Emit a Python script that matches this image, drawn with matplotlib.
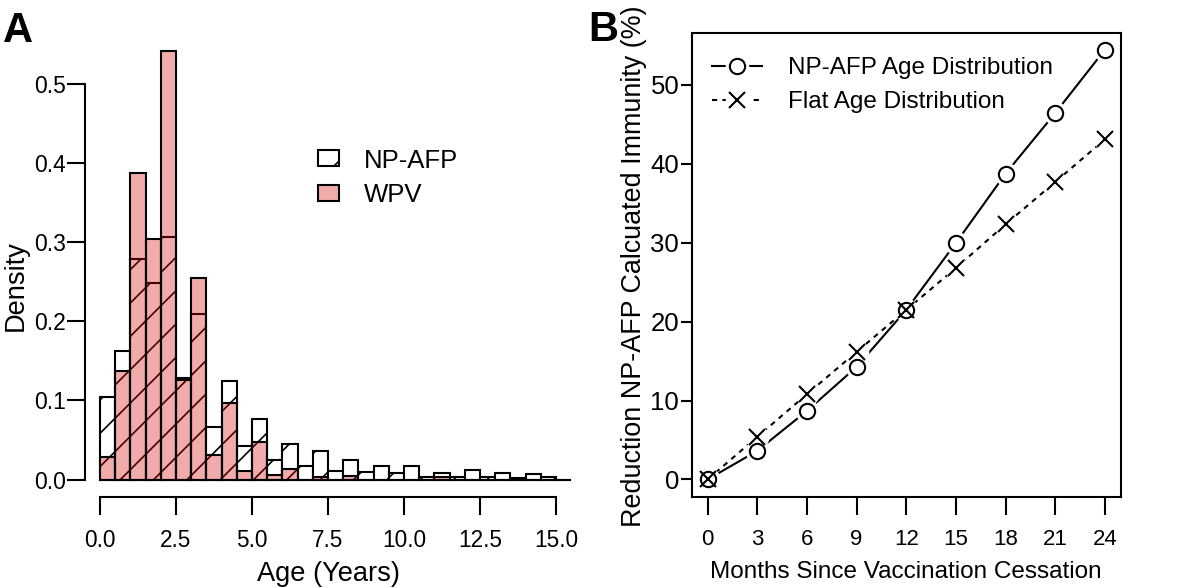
## two-panel figure: age histogram (A) and immunity reduction (B)

import numpy as np
import matplotlib
matplotlib.use('Agg')
import matplotlib.pyplot as plt
from matplotlib.patches import Patch
from matplotlib.lines import Line2D
from matplotlib.ticker import FormatStrFormatter

plt.rcParams['font.family'] = ['Liberation Sans', 'DejaVu Sans']
plt.rcParams['hatch.linewidth'] = 1.2

# panel A data: density per half-year age bin
bin_width = 0.5
age_left = np.arange(0, 15.5, bin_width)
npafp_density = [0.104, 0.162, 0.279, 0.2485, 0.306, 0.1287, 0.209, 0.0664,
                 0.1244, 0.042, 0.0765, 0.025, 0.0454, 0.017, 0.036, 0.011,
                 0.025, 0.0094, 0.017, 0.0076, 0.0165, 0.0035, 0.0086, 0.0035,
                 0.0116, 0.0035, 0.0086, 0.0015, 0.0073, 0.0035, 0.0]
wpv_density = [0.0285, 0.137, 0.387, 0.304, 0.5416, 0.126, 0.255, 0.0307,
               0.097, 0.011, 0.0475, 0.0054, 0.013, 0.0, 0.003, 0.0,
               0.0043, 0.0, 0.0, 0.0, 0.0, 0.0, 0.0035, 0.0,
               0.0, 0.0, 0.0, 0.0, 0.0, 0.0, 0.0]
age_ticks = [0, 2.5, 5, 7.5, 10, 12.5, 15]
density_ticks = [0, 0.1, 0.2, 0.3, 0.4, 0.5]

# panel B data
months = [0, 3, 6, 9, 12, 15, 18, 21, 24]
npafp_reduction = [0, 3.63, 8.69, 14.26, 21.48, 29.96, 38.73, 46.41, 54.43]
flat_reduction = [0, 5.4, 10.8, 16.16, 21.48, 26.79, 32.32, 37.68, 43.08]
reduction_ticks = [0, 10, 20, 30, 40, 50]

pink = (0.845, 0.0, 0.0, 0.33)
W, H = 1200, 588
fig = plt.figure(figsize=(W / 100, H / 100), dpi=100)


def add_axes_px(left, top, right, bottom):
    return fig.add_axes([left / W, 1 - bottom / H, (right - left) / W, (bottom - top) / H])


# ---- panel A ----
axA = add_axes_px(85, 30, 580, 497)
axA.bar(age_left, npafp_density, width=bin_width, align='edge', facecolor='white',
        edgecolor='black', hatch='/', lw=1.5)
axA.bar(age_left, wpv_density, width=bin_width, align='edge', facecolor=pink,
        edgecolor='black', lw=1.5)
axA.set_xlim(-0.493, 15.79)
axA.set_ylim(-0.0221, 0.568)
for s in ['top', 'right']:
    axA.spines[s].set_visible(False)
axA.spines['left'].set_bounds(0, 0.5)
axA.spines['bottom'].set_bounds(0, 15)
for s in ['left', 'bottom']:
    axA.spines[s].set_linewidth(1.5)
axA.set_xticks(age_ticks)
axA.set_yticks(density_ticks)
axA.xaxis.set_major_formatter(FormatStrFormatter('%.1f'))
axA.yaxis.set_major_formatter(FormatStrFormatter('%.1f'))
axA.tick_params(axis='x', direction='out', length=13, width=1.5, labelsize=16.3, pad=10)
axA.tick_params(axis='y', direction='out', length=13, width=1.5, labelsize=16.5, pad=1)
axA.set_xlabel('Age (Years)', fontsize=19.6)
axA.xaxis.set_label_coords(0.491, -0.137)
axA.set_ylabel('Density', fontsize=19.6)
axA.yaxis.set_label_coords(-0.113, 0.452)

axA.legend(handles=[Patch(facecolor='white', edgecolor='black', hatch='/', lw=1.5),
                    Patch(facecolor=pink, edgecolor='black', lw=1.5)],
           labels=['NP-AFP', 'WPV'], loc='upper left',
           bbox_to_anchor=(318 / W, 1 - 148.5 / H), bbox_transform=fig.transFigure,
           frameon=False, fontsize=18.5, borderpad=0, borderaxespad=0,
           handlelength=0.82, handleheight=0.58, handletextpad=0.97, labelspacing=0.4)

# ---- panel B ----
axB = add_axes_px(691.7, 32.7, 1120.7, 496.7)
axB.plot(months, npafp_reduction, color='black', lw=1.5, zorder=2)
axB.plot(months, flat_reduction, color='black', lw=1.5, ls=(0, (2.5, 2.5)), zorder=2)
for vals in [npafp_reduction, flat_reduction]:
    axB.plot(months, vals, ls='none', marker='o', ms=17, mfc='white', mec='none', zorder=3)
axB.plot(months, npafp_reduction, ls='none', marker='o', ms=11, mfc='white',
         mec='black', mew=1.5, zorder=4)
axB.plot(months, flat_reduction, ls='none', marker='x', ms=12, mec='black',
         mew=1.5, zorder=4)
axB.set_xlim(-0.96, 24.96)
axB.set_ylim(-2.18, 56.6)
axB.set_xticks(months)
axB.set_yticks(reduction_ticks)
for s in axB.spines.values():
    s.set_linewidth(1.5)
axB.tick_params(axis='x', direction='out', length=13, width=1.5, labelsize=16, pad=10)
axB.tick_params(axis='y', direction='out', length=8, width=1.5, labelsize=18.5, pad=1)
axB.set_xlabel('Months Since Vaccination Cessation', fontsize=17.5)
axB.xaxis.set_label_coords(0.5, -0.139)
axB.set_ylabel('Reduction NP-AFP Calcuated Immunity (%)', fontsize=19.4)
axB.yaxis.set_label_coords(-0.104, 0.497)

gap = dict(ls='none', marker='o', ms=17, mfc='white', mec='none')
h_np = (Line2D([], [], color='black', lw=1.5), Line2D([], [], **gap),
        Line2D([], [], ls='none', marker='o', ms=11, mfc='white', mec='black', mew=1.5))
h_flat = (Line2D([], [], color='black', lw=1.5, ls=(0, (2.5, 2.5))), Line2D([], [], **gap),
          Line2D([], [], ls='none', marker='x', ms=12, mec='black', mew=1.5))
axB.legend(handles=[h_np, h_flat], labels=['NP-AFP Age Distribution', 'Flat Age Distribution'],
           loc='upper left', bbox_to_anchor=(712 / W, 1 - 57 / H), bbox_transform=fig.transFigure,
           frameon=False, fontsize=17.5, borderpad=0, borderaxespad=0, handlelength=2.06,
           handletextpad=1.07, labelspacing=0.5)

fig.text(3 / W, 1 - 41.6 / H, 'A', fontsize=30, fontweight='bold', va='baseline')
fig.text(588 / W, 1 - 41 / H, 'B', fontsize=30, fontweight='bold', va='baseline')

fig.savefig('out.png', dpi=100)
